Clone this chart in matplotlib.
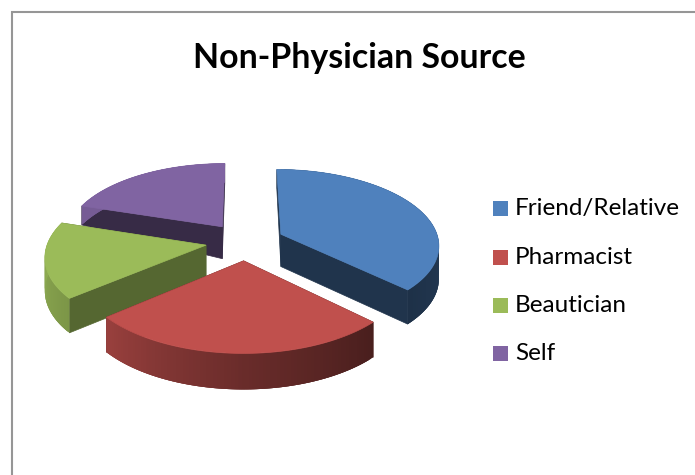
import numpy as np
import matplotlib
matplotlib.use('Agg')
import matplotlib.pyplot as plt
from matplotlib.patches import Rectangle

# Chart data
labels = ['Friend/Relative', 'Pharmacist', 'Beautician', 'Self']
values = [37.2, 26.7, 16.0, 20.1]
title = 'Non-Physician Source'

# Office colours, and how dark the cut faces of each slice are
colors = ['#4F81BD', '#C0504D', '#9BBB59', '#8064A2']
face_shade = [0.40, 0.40, 0.55, 0.43]

# Fake 3D camera, all in pixels of the output image
CX, CY = 245, 241.5
SCALE_X, SCALE_Y = 158, 75
PERSPECTIVE = 0.13
EXPLODE = 0.25


def project(x, y):
    # y is depth on the pie plane, positive goes to the back
    s = 1 / (1 + PERSPECTIVE * y)
    return CX + SCALE_X * x * s, CY - SCALE_Y * y * s


def thickness(y):
    return np.interp(y, [-1.25, 0.2, 0.5], [36, 32, 19])


def rim_shade(deg):
    return np.interp(deg, [95, 134, 180, 230, 270, 300], [0.44, 0.38, 0.55, 0.80, 0.92, 0.92])


def darker(color, k):
    return tuple(c * k for c in matplotlib.colors.to_rgb(color))


def draw_slice(ax, start, end, color, shade):
    mid = np.radians((start + end) / 2)
    ox, oy = EXPLODE * np.sin(mid), EXPLODE * np.cos(mid)
    degs = np.linspace(start, end, 90)
    rim_x = ox + np.sin(np.radians(degs))
    rim_y = oy + np.cos(np.radians(degs))

    ax_top, ay_top = project(ox, oy)
    ah = thickness(oy)
    px, py = project(rim_x, rim_y)
    ph = thickness(rim_y)

    # cut faces first, the top covers the ones turned away
    face = darker(color, shade)
    for i in [0, -1]:
        ax.fill([ax_top, px[i], px[i], ax_top],
                [ay_top, py[i], py[i] + ph[i], ay_top + ah],
                color=face, lw=0.5, zorder=1)

    # outer wall as thin strips so the shading can run along it,
    # each one runs under the next so no seams show
    for i in range(len(degs) - 1):
        j = min(i + 3, len(degs) - 1)
        sx = np.r_[px[i:j + 1], px[i:j + 1][::-1]]
        sy = np.r_[py[i:j + 1], (py + ph)[i:j + 1][::-1]]
        ax.fill(sx, sy, facecolor=darker(color, rim_shade((degs[i] + degs[i + 1]) / 2)),
                edgecolor='none', lw=0, zorder=1)

    # top
    ax.fill(np.r_[ax_top, px], np.r_[ay_top, py], color=color, lw=0.5, zorder=1)


fig = plt.figure(figsize=(6.95, 4.75), dpi=100)
ax = fig.add_axes([0, 0, 1, 1])
ax.set_xlim(0, 695)
ax.set_ylim(475, 0)
ax.axis('off')

# chart area border, cut off by the image on the right and bottom
ax.plot([11.5, 11.5, 695], [475, 12, 12], color='#969696', lw=1.5, solid_joinstyle='miter')

ax.text(359.5, 58, title, fontsize=24.4, fontweight='bold', family='Lato',
        ha='center', va='center', color='black')

# slice angles run clockwise from the top
edges = np.r_[0, np.cumsum(values) / np.sum(values) * 360]

# back to front so the nearer slices overlap the others
for i in [3, 0, 2, 1]:
    draw_slice(ax, edges[i], edges[i + 1], colors[i], face_shade[i])

# legend
legend_y = [208, 257, 305, 353]
for name, color, y in zip(labels, colors, legend_y):
    ax.add_patch(Rectangle((493, y - 7.5), 15, 15, facecolor=color, edgecolor='none'))
    ax.text(515, y + 0.5, name, fontsize=17.5, family='Lato', ha='left', va='center', color='black')

plt.savefig('out.png', dpi=100)
